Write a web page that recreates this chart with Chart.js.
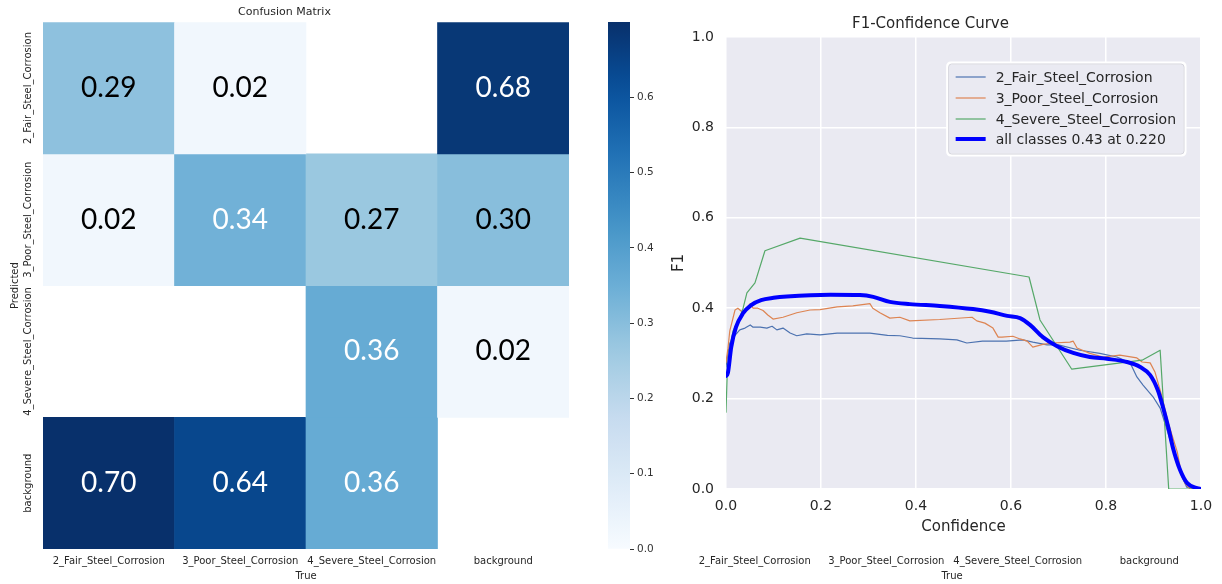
<!DOCTYPE html>
<html>
<head>
<meta charset="utf-8">
<script src="https://cdn.jsdelivr.net/npm/chart.js@4.4.1/dist/chart.umd.min.js"></script>
<style>
  html, body { margin: 0; padding: 0; background: #ffffff; }
  body { width: 1222px; height: 584px; position: relative; overflow: hidden; }
  canvas { position: absolute; top: 0; }
  #cm { left: 0; }
  #cbar { left: 600px; }
  #trueAxis { left: 646px; }
  #f1 { left: 660px; }
</style>
</head>
<body>
<canvas id="cm" width="600" height="584" style="width:600px;height:584px"></canvas>
<canvas id="cbar" width="60" height="584" style="width:60px;height:584px"></canvas>
<canvas id="trueAxis" width="576" height="584" style="width:576px;height:584px"></canvas>
<canvas id="f1" width="562" height="545" style="width:562px;height:545px"></canvas>
<script>
// ---- confusion matrix (rows = predicted, columns = true) ----
const classNames = ['2_Fair_Steel_Corrosion', '3_Poor_Steel_Corrosion', '4_Severe_Steel_Corrosion', 'background'];
const rowFair       = [0.29, 0.02, null, 0.68];
const rowPoor       = [0.02, 0.34, 0.27, 0.30];
const rowSevere     = [null, null, 0.36, 0.02];
const rowBackground = [0.70, 0.64, 0.36, null];
const matrixRows = [rowFair, rowPoor, rowSevere, rowBackground];
const colorbarTicks = [0.0, 0.1, 0.2, 0.3, 0.4, 0.5, 0.6];

// ---- F1-confidence curves ----
const fairConf = [0.0, 0.004, 0.008, 0.019, 0.029, 0.04, 0.051, 0.057, 0.072, 0.086, 0.097, 0.107, 0.12, 0.135, 0.149, 0.17, 0.198, 0.234, 0.267, 0.303, 0.34, 0.366, 0.393, 0.45, 0.486, 0.507, 0.54, 0.59, 0.625, 0.646, 0.676, 0.7, 0.745, 0.787, 0.823, 0.851, 0.865, 0.878, 0.899, 0.914, 0.924, 0.935, 0.949, 0.96, 0.97, 0.99, 1.0];
const fairF1   = [0.27, 0.30, 0.323, 0.34, 0.352, 0.356, 0.363, 0.358, 0.358, 0.356, 0.36, 0.352, 0.356, 0.345, 0.339, 0.343, 0.341, 0.345, 0.345, 0.345, 0.34, 0.339, 0.334, 0.332, 0.33, 0.323, 0.327, 0.327, 0.33, 0.325, 0.319, 0.319, 0.307, 0.30, 0.292, 0.279, 0.248, 0.23, 0.204, 0.179, 0.146, 0.108, 0.064, 0.027, 0.004, 0.0, 0.0];

const poorConf = [0.0, 0.004, 0.008, 0.019, 0.025, 0.036, 0.051, 0.057, 0.067, 0.078, 0.088, 0.099, 0.12, 0.149, 0.177, 0.198, 0.234, 0.267, 0.303, 0.309, 0.324, 0.345, 0.366, 0.387, 0.45, 0.518, 0.528, 0.545, 0.562, 0.573, 0.581, 0.604, 0.619, 0.634, 0.646, 0.667, 0.688, 0.724, 0.731, 0.739, 0.766, 0.794, 0.829, 0.865, 0.876, 0.893, 0.903, 0.918, 0.931, 0.95, 0.956, 0.966, 0.977, 1.0];
const poorF1   = [0.28, 0.31, 0.35, 0.396, 0.40, 0.39, 0.41, 0.40, 0.40, 0.395, 0.385, 0.376, 0.38, 0.39, 0.396, 0.397, 0.403, 0.405, 0.41, 0.40, 0.39, 0.378, 0.38, 0.372, 0.375, 0.38, 0.372, 0.367, 0.356, 0.336, 0.336, 0.338, 0.332, 0.327, 0.314, 0.32, 0.323, 0.325, 0.327, 0.312, 0.30, 0.292, 0.296, 0.29, 0.281, 0.279, 0.259, 0.204, 0.146, 0.082, 0.049, 0.013, 0.0, 0.0];

const severeConf = [0.0, 0.003, 0.008, 0.015, 0.029, 0.036, 0.044, 0.061, 0.082, 0.156, 0.638, 0.661, 0.728, 0.876, 0.914, 0.932, 1.0];
const severeF1   = [0.17, 0.27, 0.314, 0.35, 0.38, 0.40, 0.434, 0.456, 0.527, 0.555, 0.469, 0.374, 0.265, 0.285, 0.307, 0.0, 0.0];

const allConf = [0.0, 0.004, 0.011, 0.021, 0.036, 0.053, 0.074, 0.1, 0.128, 0.22, 0.282, 0.31, 0.345, 0.387, 0.45, 0.52, 0.556, 0.592, 0.619, 0.64, 0.667, 0.697, 0.731, 0.766, 0.802, 0.844, 0.872, 0.893, 0.909, 0.92, 0.931, 0.941, 0.956, 0.971, 0.992, 1.0];
const allF1   = [0.25, 0.257, 0.314, 0.358, 0.389, 0.407, 0.418, 0.423, 0.426, 0.43, 0.429, 0.425, 0.414, 0.409, 0.405, 0.398, 0.392, 0.383, 0.378, 0.363, 0.336, 0.316, 0.301, 0.292, 0.288, 0.281, 0.27, 0.252, 0.219, 0.181, 0.137, 0.091, 0.042, 0.013, 0.002, 0.0];
const curveLabels = ['2_Fair_Steel_Corrosion', '3_Poor_Steel_Corrosion', '4_Severe_Steel_Corrosion', 'all classes 0.43 at 0.220'];
const f1Ticks = [0.0, 0.2, 0.4, 0.6, 0.8, 1.0];

// ---------------------------------------------------------------
const FONT = '"DejaVu Sans", sans-serif';
Chart.defaults.font.family = FONT;
Chart.defaults.color = '#262626';
Chart.defaults.animation = false;

// matplotlib "Blues" colormap
const BLUES = ['#f7fbff', '#deebf7', '#c6dbef', '#9ecae1', '#6baed6', '#4292c6', '#2171b5', '#08519c', '#08306b'];
function hexRgb(h) { return [1, 3, 5].map(i => parseInt(h.substr(i, 2), 16)); }
function blues(t) {
  t = Math.max(0, Math.min(1, t));
  const pos = t * (BLUES.length - 1);
  const i = Math.min(BLUES.length - 2, Math.floor(pos));
  const f = pos - i;
  const a = hexRgb(BLUES[i]), b = hexRgb(BLUES[i + 1]);
  return a.map((c, k) => Math.round(c + (b[k] - c) * f));
}
function rgbStr(c) { return 'rgb(' + c.join(',') + ')'; }
function luminance(c) {
  const lin = c.map(v => { v /= 255; return v <= 0.03928 ? v / 12.92 : Math.pow((v + 0.055) / 1.055, 2.4); });
  return 0.2126 * lin[0] + 0.7152 * lin[1] + 0.0722 * lin[2];
}

const vmax = Math.max(...matrixRows.flat().filter(v => v != null));

// shared horizontal axis for the matrix ("True" classes)
function trueAxis() {
  return {
    type: 'category',
    offset: true,
    grid: { display: false, drawTicks: false },
    border: { display: false },
    ticks: { font: { size: 10 }, color: '#262626', padding: 6, maxRotation: 0, minRotation: 0, autoSkip: false },
    title: { display: true, text: 'True', font: { size: 10 }, color: '#262626', padding: { top: 0, bottom: 2 } },
    afterFit(s) { s.height = 35; }
  };
}

// value text in each cell
const cellText = {
  id: 'cellText',
  afterDatasetsDraw(chart) {
    const ctx = chart.ctx;
    ctx.save();
    ctx.font = '28px Lato, "Open Sans", sans-serif';
    ctx.textAlign = 'center';
    ctx.textBaseline = 'middle';
    chart.data.datasets.forEach((ds, i) => {
      const meta = chart.getDatasetMeta(i);
      meta.data.forEach((el, j) => {
        const v = ds.values[j];
        if (v == null) return;
        const p = el.getCenterPoint();
        ctx.fillStyle = luminance(blues(v / vmax)) > 0.408 ? '#000000' : '#ffffff';
        ctx.fillText(v.toFixed(2), p.x, p.y);
      });
    });
    ctx.restore();
  }
};

// rotated class names along the predicted axis
const predictedLabels = {
  id: 'predictedLabels',
  afterDraw(chart) {
    const ctx = chart.ctx, ys = chart.scales.y;
    ctx.save();
    ctx.font = '10px ' + FONT;
    ctx.fillStyle = '#262626';
    ctx.textAlign = 'center';
    ctx.textBaseline = 'middle';
    classNames.forEach((name, i) => {
      ctx.save();
      ctx.translate(28, ys.getPixelForValue(i + 0.5));
      ctx.rotate(-Math.PI / 2);
      ctx.fillText(name, 0, 0);
      ctx.restore();
    });
    ctx.restore();
  }
};

new Chart(document.getElementById('cm'), {
  type: 'bar',
  data: {
    labels: classNames,
    datasets: matrixRows.map((row, r) => ({
      label: classNames[r],
      values: row,
      data: row.map(v => v == null ? null : [r, r + 1]),
      backgroundColor: row.map(v => v == null ? 'rgba(0,0,0,0)' : rgbStr(blues(v / vmax))),
      borderWidth: 0,
      grouped: false,
      barPercentage: 1,
      categoryPercentage: 1
    }))
  },
  options: {
    responsive: false,
    layout: { padding: { right: 31, top: 0, bottom: 0, left: 0 } },
    plugins: {
      legend: { display: false },
      tooltip: { enabled: false },
      title: { display: true, text: 'Confusion Matrix', font: { size: 11, weight: 'normal' }, color: '#262626', padding: { top: 6, bottom: 3 } }
    },
    scales: {
      x: trueAxis(),
      y: {
        type: 'linear', min: 0, max: 4, reverse: true,
        ticks: { display: false },
        grid: { display: false, drawTicks: false },
        border: { display: false },
        title: { display: true, text: 'Predicted', font: { size: 10 }, color: '#262626', padding: { top: 9, bottom: 0 } },
        afterFit(s) { s.width = 43; }
      }
    }
  },
  plugins: [cellText, predictedLabels]
});

// colour bar
new Chart(document.getElementById('cbar'), {
  type: 'bar',
  data: {
    labels: [''],
    datasets: [{
      data: [[0, vmax]],
      borderWidth: 0,
      barPercentage: 1,
      categoryPercentage: 1,
      backgroundColor(ctx) {
        const chart = ctx.chart, ys = chart.scales.y;
        if (!chart.chartArea || !ys) return 'rgba(0,0,0,0)';
        const y0 = ys.getPixelForValue(0), y1 = ys.getPixelForValue(vmax);
        if (!isFinite(y0) || !isFinite(y1) || y0 === y1) return 'rgba(0,0,0,0)';
        const g = chart.ctx.createLinearGradient(0, y0, 0, y1);
        for (let k = 0; k <= 20; k++) g.addColorStop(k / 20, rgbStr(blues(k / 20)));
        return g;
      }
    }]
  },
  options: {
    responsive: false,
    layout: { padding: { left: 8, top: 22, bottom: 35, right: 0 } },
    plugins: { legend: { display: false }, tooltip: { enabled: false } },
    scales: {
      x: { display: false },
      y: {
        position: 'right', min: 0, max: vmax,
        afterBuildTicks(s) { s.ticks = colorbarTicks.map(v => ({ value: v })); },
        ticks: { font: { size: 10.5 }, color: '#333333', padding: 3, callback: v => v.toFixed(1) },
        grid: { drawOnChartArea: false, drawTicks: true, tickLength: 4, color: '#333333', tickWidth: 1 },
        border: { display: false },
        afterFit(s) { s.width = 30; }
      }
    }
  }
});

// second copy of the "True" class axis
new Chart(document.getElementById('trueAxis'), {
  type: 'bar',
  data: { labels: classNames, datasets: [] },
  options: {
    responsive: false,
    layout: { padding: { right: 7, top: 22, bottom: 0, left: 0 } },
    plugins: { legend: { display: false }, tooltip: { enabled: false } },
    scales: {
      x: trueAxis(),
      y: {
        type: 'linear', min: 0, max: 4,
        ticks: { display: false },
        grid: { display: false, drawTicks: false },
        border: { display: false },
        afterFit(s) { s.width = 43; }
      }
    }
  }
});

// F1-confidence plot
const plotBackground = {
  id: 'plotBackground',
  beforeDraw(chart) {
    const a = chart.chartArea, ctx = chart.ctx;
    ctx.save();
    ctx.fillStyle = '#eaeaf2';
    ctx.fillRect(a.left, a.top, a.right - a.left, a.bottom - a.top);
    ctx.restore();
  }
};

const curveLegend = {
  id: 'curveLegend',
  afterDraw(chart) {
    const ctx = chart.ctx, a = chart.chartArea;
    ctx.save();
    ctx.font = '14px ' + FONT;
    const ds = chart.data.datasets;
    const textW = Math.max(...ds.map(d => ctx.measureText(d.label).width));
    const w = 48 + textW + 9, h = 92;
    const x = a.right - 16 - w, y = a.top + 26;
    ctx.beginPath();
    ctx.roundRect(x, y, w, h, 3);
    ctx.fillStyle = '#eaeaf2';
    ctx.fill();
    ctx.lineWidth = 3;
    ctx.strokeStyle = '#ffffff';
    ctx.stroke();
    ctx.beginPath();
    ctx.roundRect(x + 1, y + 1, w - 2, h - 2, 3);
    ctx.lineWidth = 1;
    ctx.strokeStyle = '#d4d4dc';
    ctx.stroke();
    const rows = [14, 35, 56, 76];
    ds.forEach((d, i) => {
      const ry = y + rows[i];
      ctx.beginPath();
      ctx.moveTo(x + 8, ry);
      ctx.lineTo(x + 38, ry);
      ctx.strokeStyle = d.borderColor;
      ctx.lineWidth = d.borderWidth;
      ctx.lineCap = 'butt';
      ctx.stroke();
      ctx.fillStyle = '#262626';
      ctx.textAlign = 'left';
      ctx.textBaseline = 'middle';
      ctx.fillText(d.label, x + 48, ry + 1);
    });
    ctx.restore();
  }
};

function pts(xs, ys) { return xs.map((x, i) => ({ x: x, y: ys[i] })); }

new Chart(document.getElementById('f1'), {
  type: 'line',
  data: {
    datasets: [
      { label: curveLabels[0], data: pts(fairConf, fairF1), borderColor: '#4c72b0', borderWidth: 1.2, order: 4 },
      { label: curveLabels[1], data: pts(poorConf, poorF1), borderColor: '#dd8452', borderWidth: 1.2, order: 3 },
      { label: curveLabels[2], data: pts(severeConf, severeF1), borderColor: '#55a868', borderWidth: 1.2, order: 2 },
      { label: curveLabels[3], data: pts(allConf, allF1), borderColor: '#0000ff', borderWidth: 4, order: 1, cubicInterpolationMode: 'monotone' }
    ]
  },
  options: {
    responsive: false,
    layout: { padding: { right: 21, left: 0, top: 0, bottom: 0 } },
    elements: { point: { radius: 0 }, line: { tension: 0, borderJoinStyle: 'round', borderCapStyle: 'round' } },
    plugins: {
      legend: { display: false },
      tooltip: { enabled: false },
      title: { display: true, text: 'F1-Confidence Curve', font: { size: 15, weight: 'normal' }, color: '#262626', padding: { top: 15, bottom: 4 } }
    },
    scales: {
      x: {
        type: 'linear', min: 0, max: 1,
        afterBuildTicks(s) { s.ticks = f1Ticks.map(v => ({ value: v })); },
        ticks: { font: { size: 14 }, color: '#262626', padding: 9, callback: v => v.toFixed(1), maxRotation: 0 },
        grid: { color: '#ffffff', lineWidth: 1.5, drawTicks: false },
        border: { display: false },
        title: { display: true, text: 'Confidence', font: { size: 15 }, color: '#262626', padding: { top: 0, bottom: 9 } },
        afterFit(s) { s.height = 56; }
      },
      y: {
        type: 'linear', min: 0, max: 1,
        afterBuildTicks(s) { s.ticks = f1Ticks.map(v => ({ value: v })); },
        ticks: { font: { size: 14 }, color: '#262626', padding: 12, callback: v => v.toFixed(1) },
        grid: { color: '#ffffff', lineWidth: 1.5, drawTicks: false },
        border: { display: false },
        title: { display: true, text: 'F1', font: { size: 15 }, color: '#262626', padding: { top: 10, bottom: 0 } },
        afterFit(s) { s.width = 66; }
      }
    }
  },
  plugins: [plotBackground, curveLegend]
});
</script>
</body>
</html>
